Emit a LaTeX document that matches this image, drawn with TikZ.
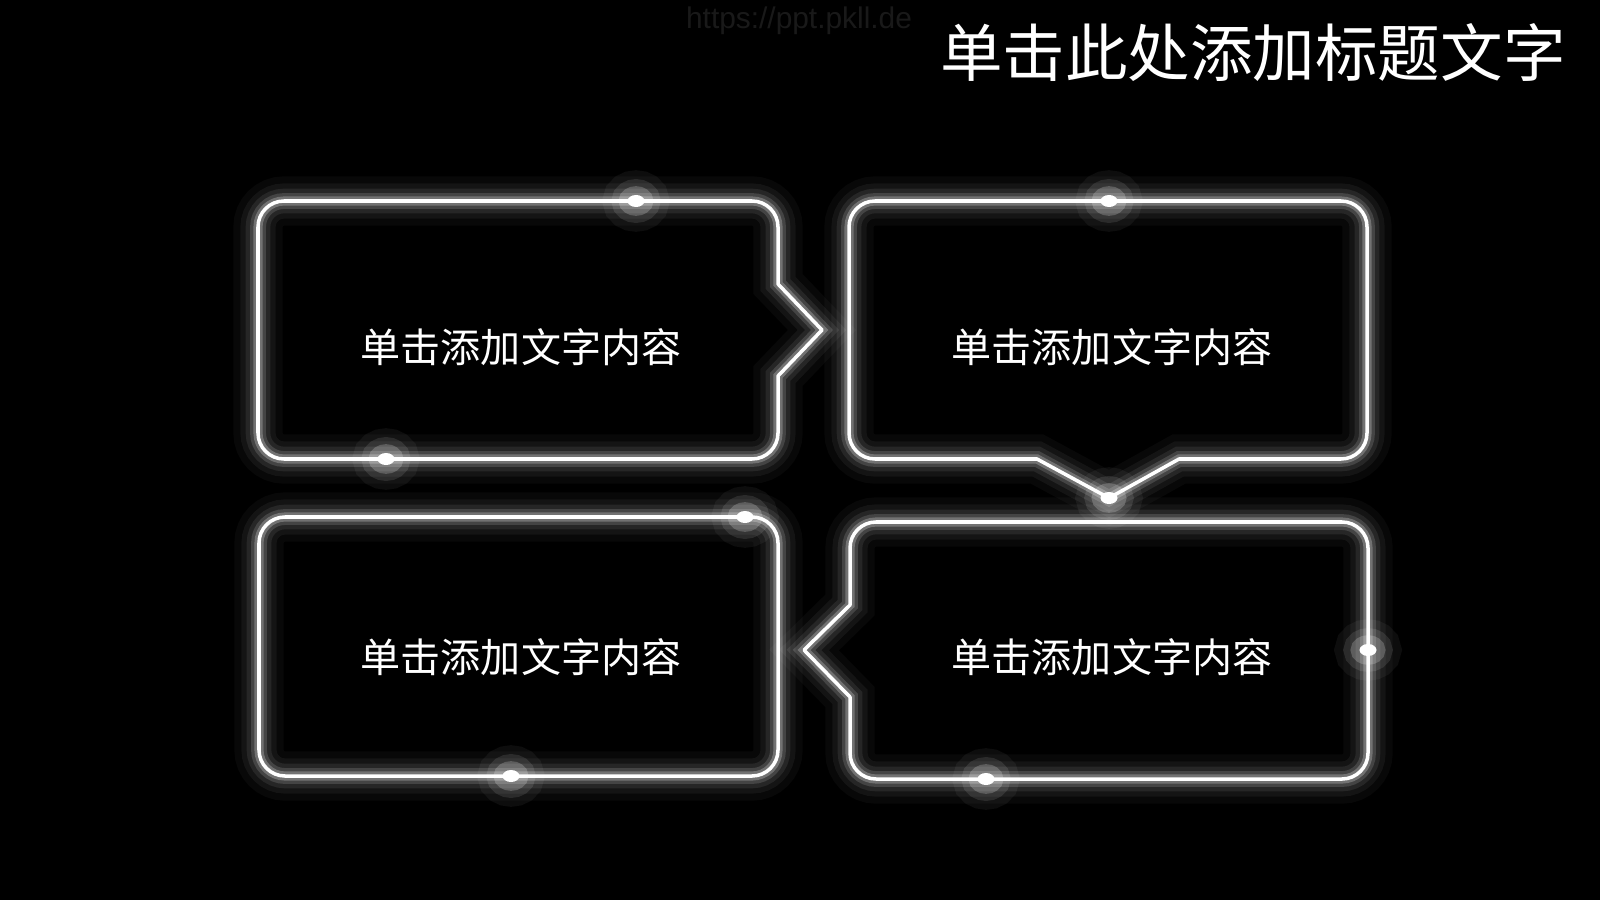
\documentclass[tikz,border=0pt]{standalone}
\usepackage{fontspec}
\newfontfamily\cjk{Noto Sans CJK SC}
\setsansfont{Liberation Sans}
\usetikzlibrary{shapes.geometric}

\begin{document}
\begin{tikzpicture}[
	neon/.style={draw=white, line width=1pt, line join=round,
		preaction={draw=white, draw opacity=0.03, line width=14pt},
		preaction={draw=white, draw opacity=0.05, line width=10pt},
		preaction={draw=white, draw opacity=0.08, line width=7pt},
		preaction={draw=white, draw opacity=0.14, line width=4.5pt},
		preaction={draw=white, draw opacity=0.25, line width=2.6pt}},
	spark/.style={ellipse, fill=white, inner sep=0pt, minimum width=0.17cm, minimum height=0.12cm,
		preaction={draw=white, draw opacity=0.05, line width=14pt},
		preaction={draw=white, draw opacity=0.10, line width=9pt},
		preaction={draw=white, draw opacity=0.20, line width=5pt}},
	boxtext/.style={white, font=\cjk\fontsize{11.4}{13}\selectfont}]
				\fill[black] (0,0) rectangle (16,9);
				\useasboundingbox (0,0) rectangle (16,9);
				
				\draw[neon] (5.20,6.99) -- (7.52,6.99) arc[start angle=90,end angle=0,radius=0.26] -- (7.78,6.16) -- (8.22,5.70) -- (7.78,5.24) -- (7.78,4.67) arc[start angle=0,end angle=-90,radius=0.26] -- (2.84,4.41) arc[start angle=270,end angle=180,radius=0.26] -- (2.58,6.73) arc[start angle=180,end angle=90,radius=0.26] -- cycle;
				\draw[neon] (11.09,6.99) -- (13.41,6.99) arc[start angle=90,end angle=0,radius=0.26] -- (13.67,4.67) arc[start angle=0,end angle=-90,radius=0.26] -- (11.79,4.41) -- (11.09,4.02) -- (10.37,4.41) -- (8.75,4.41) arc[start angle=270,end angle=180,radius=0.26] -- (8.49,6.73) arc[start angle=180,end angle=90,radius=0.26] -- cycle;
				\draw[neon] (5.20,3.83) -- (7.52,3.83) arc[start angle=90,end angle=0,radius=0.26] -- (7.78,1.50) arc[start angle=0,end angle=-90,radius=0.26] -- (2.85,1.24) arc[start angle=270,end angle=180,radius=0.26] -- (2.59,3.57) arc[start angle=180,end angle=90,radius=0.26] -- cycle;
				\draw[neon] (11.09,3.78) -- (13.42,3.78) arc[start angle=90,end angle=0,radius=0.26] -- (13.68,1.47) arc[start angle=0,end angle=-90,radius=0.26] -- (8.76,1.21) arc[start angle=270,end angle=180,radius=0.26] -- (8.50,2.03) -- (8.04,2.50) -- (8.50,2.95) -- (8.50,3.52) arc[start angle=180,end angle=90,radius=0.26] -- cycle;
				
				\node[spark] (v5) at (6.36,6.99) {};
				\node[spark] (v6) at (3.86,4.41) {};
				\node[spark] (v7) at (11.09,6.99) {};
				\node[spark] (v8) at (11.09,4.02) {};
				\node[spark] (v9) at (7.45,3.83) {};
				\node[spark] (v10) at (5.11,1.24) {};
				\node[spark] (v11) at (13.68,2.50) {};
				\node[spark] (v12) at (9.86,1.21) {};
				
				\node[boxtext] (v1) at (5.21,5.53) {单击添加文字内容};
				\node[boxtext] (v2) at (11.12,5.53) {单击添加文字内容};
				\node[boxtext] (v3) at (5.21,2.43) {单击添加文字内容};
				\node[boxtext] (v4) at (11.12,2.43) {单击添加文字内容};
				
				\node[white, anchor=east, font=\cjk\fontsize{17.8}{20}\selectfont] (v13) at (15.78,8.47) {单击此处添加标题文字};
				\node[black!90, font=\sffamily\fontsize{8.5}{9}\selectfont] (v14) at (7.99,8.79) {https://ppt.pkll.de};
\end{tikzpicture}
\end{document}
